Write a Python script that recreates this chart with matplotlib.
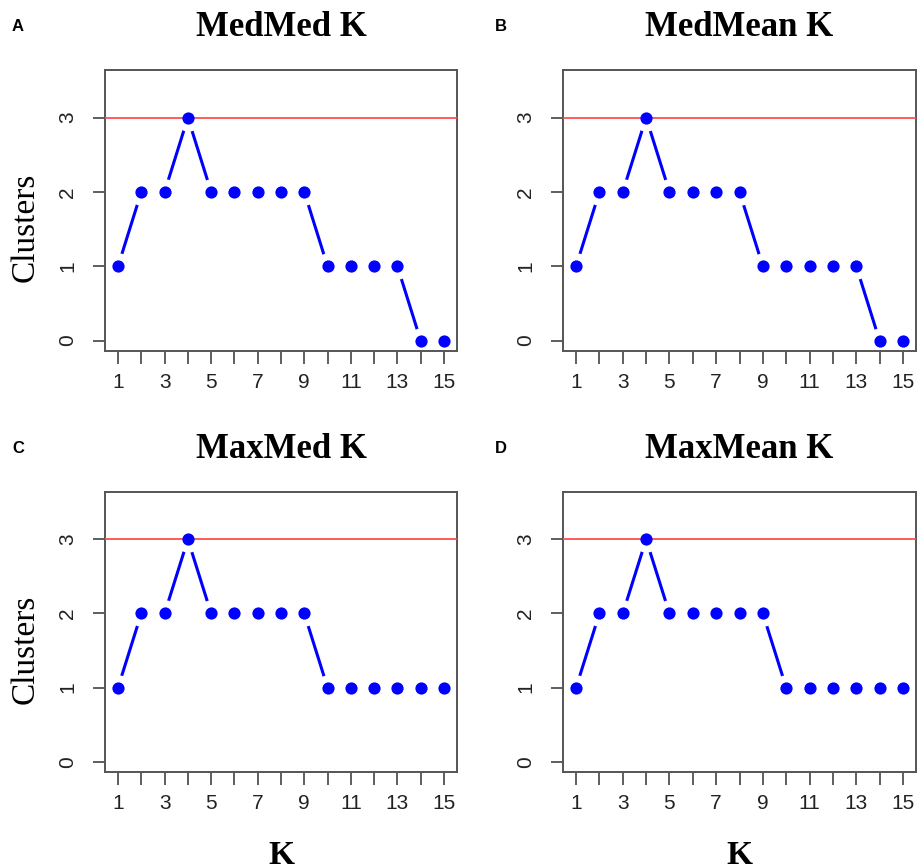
import matplotlib
matplotlib.use("Agg")
import matplotlib.pyplot as plt

# data
k_values = list(range(1, 16))
medmed = [1, 2, 2, 3, 2, 2, 2, 2, 2, 1, 1, 1, 1, 0, 0]
medmean = [1, 2, 2, 3, 2, 2, 2, 2, 1, 1, 1, 1, 1, 0, 0]
maxmed = [1, 2, 2, 3, 2, 2, 2, 2, 2, 1, 1, 1, 1, 1, 1]
maxmean = [1, 2, 2, 3, 2, 2, 2, 2, 2, 1, 1, 1, 1, 1, 1]
titles = ["MedMed K", "MedMean K", "MaxMed K", "MaxMean K"]
letters = ["A", "B", "C", "D"]
threshold = 3
x_tick_labels = [str(k) if k % 2 == 1 else "" for k in k_values]
y_ticks = [0, 1, 2, 3]

W, H = 919, 868
fig = plt.figure(figsize=(W / 100, H / 100), dpi=100)

SERIF = "Liberation Serif"
SANS = "Liberation Sans"
BOX = "#555555"

# panel boxes in pixels: left, right, top, bottom
boxes = [(105, 457, 70, 351), (563, 916, 70, 351),
         (105, 457, 492, 772), (563, 916, 492, 772)]
series = [medmed, medmean, maxmed, maxmean]

for i, (vals, (l, r, t, b)) in enumerate(zip(series, boxes)):
    ax = fig.add_axes([l / W, 1 - b / H, (r - l) / W, (b - t) / H])
    ax.set_xlim(0.44, 15.56)
    ax.set_ylim(-0.14, 3.64)

    # R style type="b": line with gaps round each point
    ax.plot(k_values, vals, color="blue", lw=2.2, zorder=1.5,
            solid_capstyle="butt")
    ax.plot(k_values, vals, ls="none", marker="o", ms=19, mfc="white",
            mec="none", zorder=1.8)
    ax.axhline(threshold, color="#ff4d4d", lw=1.3, zorder=3)
    ax.plot(k_values, vals, ls="none", marker="o", ms=8.8, mfc="blue",
            mec="none", zorder=4)

    ax.set_xticks(k_values)
    ax.set_xticklabels(x_tick_labels, fontfamily=SANS, fontsize=15,
                       color="#222222")
    ax.set_yticks(y_ticks)
    ax.set_yticklabels([str(v) for v in y_ticks], fontfamily=SANS,
                       fontsize=15, rotation=90, va="center",
                       color="#222222")
    ax.tick_params(axis="x", length=9, width=1.1, color="#333333", pad=7)
    ax.tick_params(axis="y", length=9, width=1.1, color="#333333", pad=11)
    for sp in ax.spines.values():
        sp.set_color(BOX)
        sp.set_linewidth(1.4)

    cx = (l + r) / 2
    fig.text(cx / W, 1 - (t - 34) / H, titles[i], fontfamily=SERIF,
             fontweight="bold", fontsize=25, ha="center", va="baseline")
    lx = 12 if l < 300 else 495
    fig.text(lx / W, 1 - (t - 39) / H, letters[i], fontfamily=SANS,
             fontweight="bold", fontsize=12, ha="left", va="baseline")

    if l < 300:
        fig.text(25 / W, 1 - ((t + b) / 2 + 17) / H, "Clusters",
                 fontfamily=SERIF, fontsize=24, rotation=90,
                 ha="center", va="center")
    if t > 400:
        fig.text(cx / W, 1 - 864 / H, "K", fontfamily=SERIF,
                 fontweight="bold", fontsize=24, ha="center", va="baseline")

fig.savefig("out.png", dpi=100)
